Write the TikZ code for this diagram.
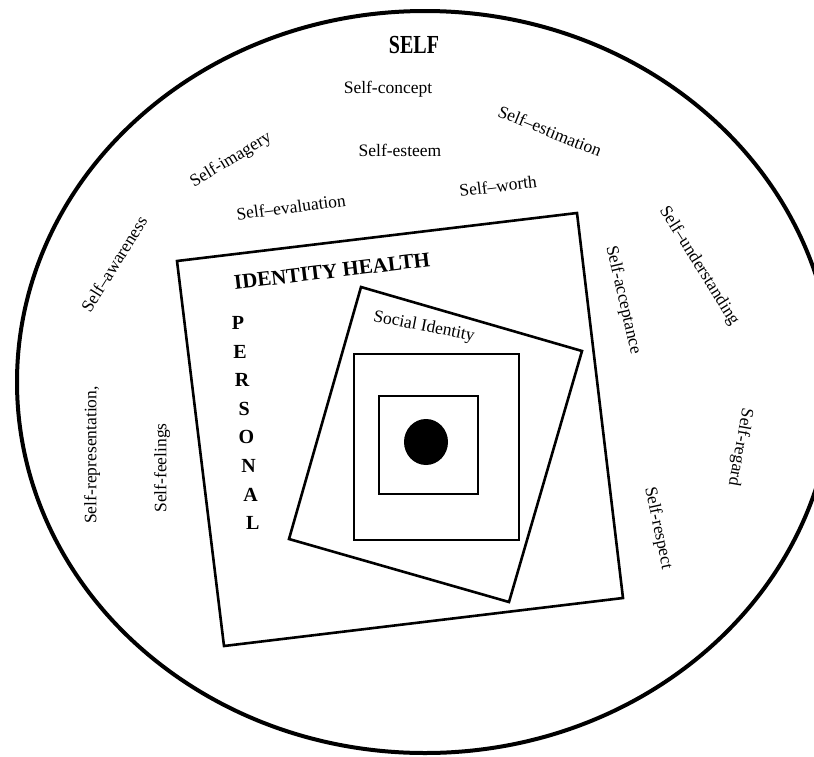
\documentclass[tikz,border=0pt]{standalone}
\usepackage{fontspec}
\setmainfont{Liberation Serif}

\begin{document}
\begin{tikzpicture}[x=1pt, y=-1pt, line join=miter]

  \tikzset{
    term/.style={font=\fontsize{17.5}{17.5}\selectfont, inner sep=1pt},
    heading/.style={font=\bfseries\fontsize{21}{21}\selectfont, inner sep=1pt},
    boxline/.style={line width=2.6pt},
  }

  \useasboundingbox (0,0) rectangle (814,756);
  \clip (0,0) rectangle (814,756);

  % Outer ring (the self)
  \coordinate (C) at (425,382);
  \draw[line width=4pt] (C) ellipse [x radius=408, y radius=371];

  % Identity health frame, tilted
  \coordinate (H1) at (177,261);
  \coordinate (H2) at (577,213);
  \coordinate (H3) at (623,598);
  \coordinate (H4) at (224,646);
  \draw[boxline] (H1) -- (H2) -- (H3) -- (H4) -- cycle;

  % Social identity square (rotated the other way)
  \coordinate (S1) at (361,287);
  \coordinate (S2) at (582,351);
  \coordinate (S3) at (509,602);
  \coordinate (S4) at (289,539);
  \draw[boxline] (S1) -- (S2) -- (S3) -- (S4) -- cycle;

  % Two upright squares and the core
  \draw[boxline] (354,354) rectangle (519,540);
  \draw[boxline] (379,396) rectangle (478,494);
  \fill (426,442) ellipse [x radius=22, y radius=23];

  % Titles
  \node[font=\bfseries\fontsize{26}{26}\selectfont] (self) at (414,45) {\scalebox{0.77}[1]{SELF}};
  \node[heading, rotate=6.8] (idh) at (332,271) {IDENTITY HEALTH};
  \node[term, rotate=-11] (social) at (424,327) {Social Identity};

  % PERSONAL, one letter per row
  \foreach \ch [count=\i from 0] in {P,E,R,S,O,N,A,L}
    \node[heading, font=\bfseries\fontsize{20}{20}\selectfont] (pers\i) at ({238+2.1*\i},{323+28.6*\i}) {\ch};

  % Self-terms around the frame
  \node[term] (concept) at (388,89) {Self-concept};
  \node[term] (esteem) at (400,150) {Self-esteem};
  \node[term, rotate=31] (imagery) at (231,160) {Self-imagery};
  \node[term, rotate=7.5] (evaluation) at (291,207) {Self--evaluation};
  \node[term, rotate=7] (worth) at (498,186) {Self--worth};
  \node[term, rotate=-22] (estimation) at (550,131) {Self--estimation};
  \node[term, rotate=58] (awareness) at (114,264) {Self--awareness};
  \node[term, rotate=-58] (understanding) at (699,266) {Self--understanding};
  \node[term, rotate=-77] (acceptance) at (623,300) {Self-acceptance};
  \node[term, rotate=-100] (regard) at (740,447) {Self-regard};
  \node[term, rotate=-78] (respect) at (658,528) {Self-respect};
  \node[term, rotate=90] (representation) at (92,455) {Self-representation,};
  \node[term, rotate=90] (feelings) at (162,468) {Self-feelings};

\end{tikzpicture}
\end{document}
